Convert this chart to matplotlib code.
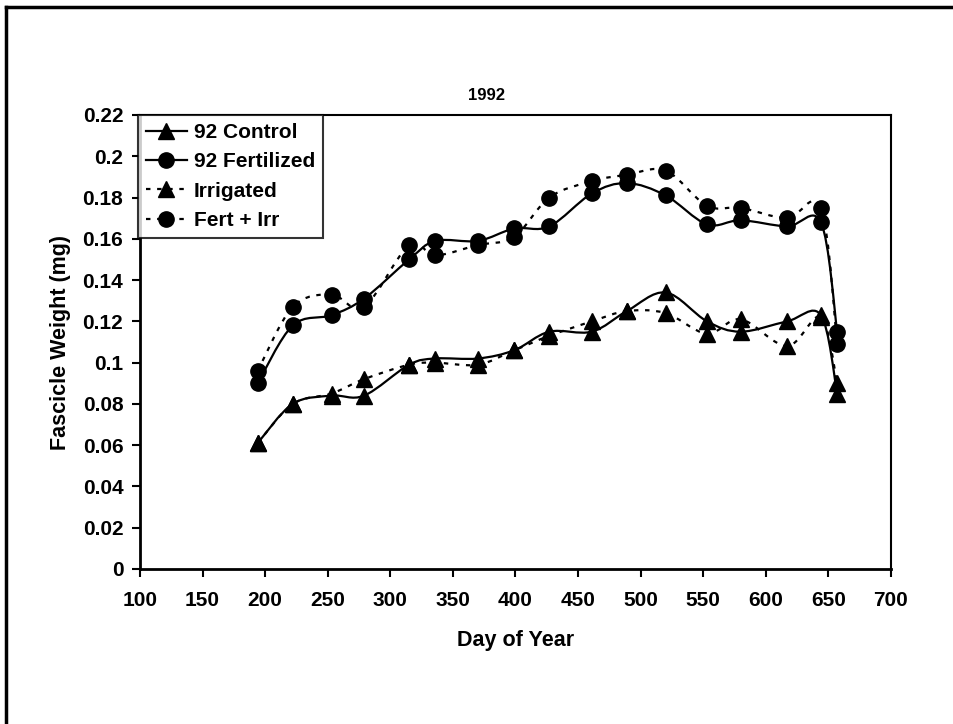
import matplotlib
matplotlib.use("Agg")
import matplotlib.pyplot as plt
from matplotlib.path import Path
from matplotlib.patches import PathPatch
from matplotlib.lines import Line2D
import numpy as np

plt.rcParams['font.family'] = ['Liberation Sans', 'DejaVu Sans']
plt.rcParams['font.weight'] = 'bold'

# sampling days
days = [194, 222, 253, 279, 315, 336, 370, 399, 427, 461, 489, 520, 553, 580, 617, 644, 657]

control = [0.061, 0.080, 0.084, 0.084, 0.099, 0.102, 0.102, 0.106, 0.115, 0.115, 0.125,
           0.134, 0.120, 0.115, 0.120, 0.123, 0.085]
fertilized = [0.090, 0.118, 0.123, 0.131, 0.150, 0.159, 0.159, 0.165, 0.166, 0.182, 0.187,
              0.181, 0.167, 0.169, 0.166, 0.168, 0.115]
irrigated = [0.061, 0.080, 0.085, 0.092, 0.099, 0.100, 0.099, 0.106, 0.113, 0.120, 0.125,
             0.124, 0.114, 0.121, 0.108, 0.122, 0.090]
fert_irr = [0.096, 0.127, 0.133, 0.127, 0.157, 0.152, 0.157, 0.161, 0.180, 0.188, 0.191,
            0.193, 0.176, 0.175, 0.170, 0.175, 0.109]

dotted = (0, (2, 3))
series = [
    ("92 Control", control, "^", "-"),
    ("92 Fertilized", fertilized, "o", "-"),
    ("Irrigated", irrigated, "^", dotted),
    ("Fert + Irr", fert_irr, "o", dotted),
]


def smooth_path(x, y):
    # spreadsheet-style smoothed line: cubic bezier segments through every point
    x = np.asarray(x, float)
    y = np.asarray(y, float)
    n = len(x)
    verts = [(x[0], y[0])]
    codes = [Path.MOVETO]
    for i in range(n - 1):
        i0 = max(i - 1, 0)
        i3 = min(i + 2, n - 1)
        c1 = (x[i] + (x[i + 1] - x[i0]) / 6, y[i] + (y[i + 1] - y[i0]) / 6)
        c2 = (x[i + 1] - (x[i3] - x[i]) / 6, y[i + 1] - (y[i3] - y[i]) / 6)
        verts += [c1, c2, (x[i + 1], y[i + 1])]
        codes += [Path.CURVE4] * 3
    return Path(verts, codes)


fig = plt.figure(figsize=(9.54, 7.24), dpi=100)
ax = fig.add_axes([140 / 954, 1 - 569 / 724, 751 / 954, 454 / 724])

handles = []
for name, vals, mk, ls in series:
    ax.add_patch(PathPatch(smooth_path(days, vals), facecolor='none', edgecolor='black',
                           linewidth=1.6, linestyle=ls, zorder=2))
    ax.plot(days, vals, linestyle='none', marker=mk, markersize=11,
            color='black', zorder=3)
    handles.append(Line2D([], [], color='black', linestyle=ls, linewidth=1.6,
                          marker=mk, markersize=11))

ax.set_xlim(100, 700)
ax.set_ylim(0, 0.22)
ax.set_xticks(np.arange(100, 701, 50))
ax.set_yticks(np.arange(0, 0.221, 0.02))
ax.set_yticklabels(['0', '0.02', '0.04', '0.06', '0.08', '0.1', '0.12', '0.14',
                    '0.16', '0.18', '0.2', '0.22'])
ax.tick_params(direction='out', length=6, width=1.5, labelsize=15)
ax.tick_params(axis='x', pad=10)
ax.tick_params(axis='y', pad=6)
for sp in ax.spines.values():
    sp.set_linewidth(1.5)
    sp.set_color('black')
ax.spines['bottom'].set_linewidth(2)
ax.spines['left'].set_linewidth(2)

ax.set_xlabel("Day of Year", fontsize=15.5, fontweight='bold', labelpad=14)
ax.set_ylabel("Fascicle Weight (mg)", fontsize=15.5, fontweight='bold', labelpad=8)
fig.text(487 / 954, 1 - 95 / 724, "1992", ha='center', va='center',
         fontsize=12, fontweight='bold')

leg = ax.legend(handles, [s[0] for s in series], loc='upper left',
                bbox_to_anchor=(-0.003, 1.0), fontsize=15, frameon=True,
                fancybox=False, borderpad=0.38, handlelength=2.0, handletextpad=0.3,
                labelspacing=0.5, borderaxespad=0)
leg.get_frame().set_edgecolor('black')
leg.get_frame().set_linewidth(1.5)

# outer frame of the chart area
fig.add_artist(Line2D([6 / 954, 6 / 954], [0, 1 - 7 / 724], color='black', linewidth=2.5))
fig.add_artist(Line2D([6 / 954, 1], [1 - 7 / 724, 1 - 7 / 724], color='black', linewidth=2.5))

fig.savefig("out.png", dpi=100)
